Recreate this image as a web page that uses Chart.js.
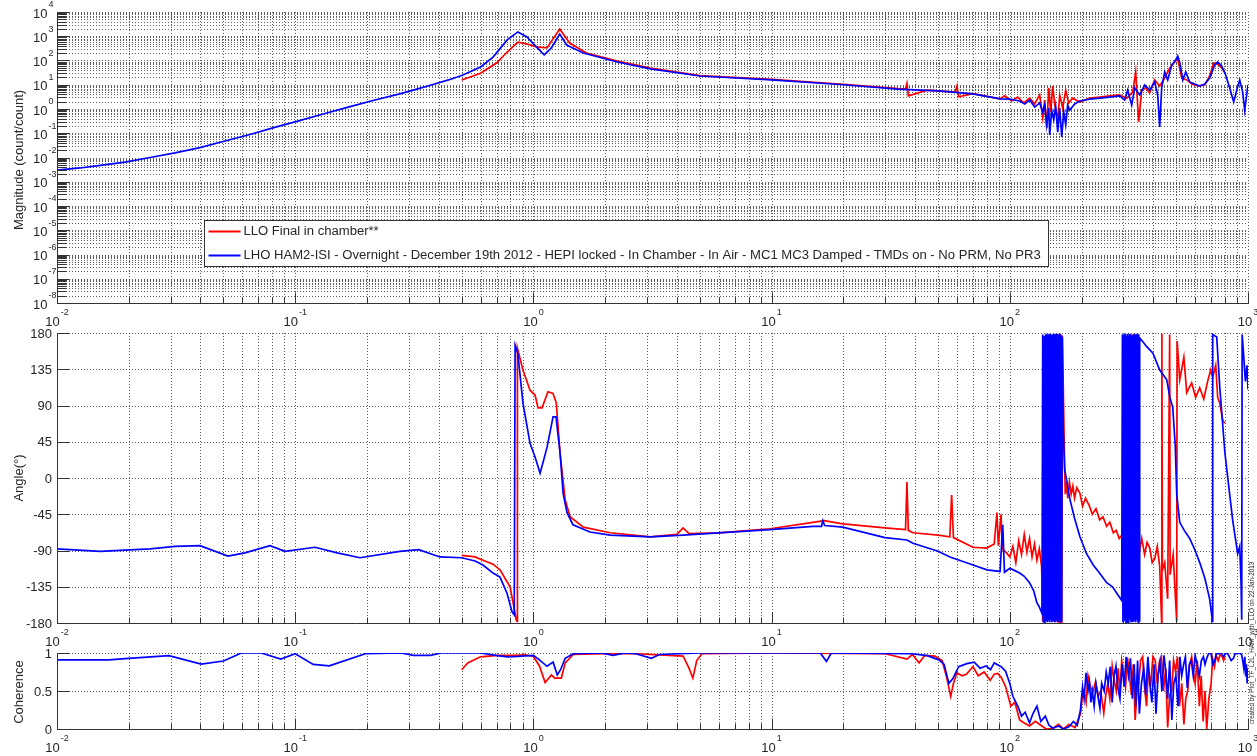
<!DOCTYPE html>
<html>
<head>
<meta charset="utf-8">
<script src="https://cdn.jsdelivr.net/npm/chart.js@4/dist/chart.umd.min.js"></script>
<style>
  body { margin: 0; background: #fff; }
  #wrap { position: relative; width: 1257px; height: 756px; }
  #wrap canvas { position: absolute; left: 0; top: 0; }
</style>
</head>
<body>
<div id="wrap">
  <canvas id="mag" width="1257" height="756"></canvas>
  <canvas id="phase" width="1257" height="756"></canvas>
  <canvas id="coh" width="1257" height="756"></canvas>
</div>
<script>
// ---- series -------------------------------------------------------------
var labelLLO = 'LLO Final in chamber**';
var labelLHO = 'LHO HAM2-ISI - Overnight - December 19th 2012 - HEPI locked - In Chamber - In Air - MC1 MC3 Damped - TMDs on - No PRM, No PR3';

// magnitude (count/count)
var magFreqLHO = [0.01, 0.0125, 0.0152, 0.0193, 0.0246, 0.0313, 0.0398, 0.0507, 0.0646, 0.0806,
  0.1007, 0.131, 0.17, 0.216, 0.275, 0.324, 0.379, 0.44, 0.5, 0.6,
  0.677, 0.776, 0.861, 0.94, 1.01, 1.11, 1.19, 1.29, 1.38, 1.62,
  2.25, 3.1, 5, 10, 20, 34, 50, 70, 91,
  100, 110, 115.5, 121.2, 127.2, 133.5, 137.5, 140.1, 142.9, 145.7,
  147.1, 149.9, 152.9, 155.8, 158.9, 162, 165.2, 168.4, 171.7, 175,
  178.4, 187.3, 196.6, 216.5, 238.5, 262.7, 289.3, 303.6, 312.6, 324.9,
  334.4, 351, 368.4, 386.6, 405.7, 417.7, 425.9, 434.2, 447, 460.2,
  478.4, 497.3, 507, 516.9, 532.1, 547.8, 569.4, 597.4, 627, 658.1,
  690.6, 724.8, 746.1, 775.5, 806.1, 837.8, 871, 896.6, 923, 950,
  968.6, 1000];
var magLHO = [0.003, 0.0037, 0.0047, 0.0065, 0.01, 0.0155, 0.0257, 0.048, 0.089, 0.166,
  0.3, 0.62, 1.26, 2.34, 4.2, 6.6, 10.2, 15.8, 24, 54,
  138, 708, 1510, 933, 437, 170, 331, 1230, 437, 204,
  87, 45, 23, 15.8, 10, 6.6, 5.6, 4.2, 2.6,
  2.57, 2.14, 1.62, 2.34, 1.2, 1.78, 0.76, 1.45, 0.22, 1.1,
  0.085, 0.91, 0.35, 1.32, 0.11, 1.1, 0.071, 0.76, 0.22, 1.45,
  0.91, 1.62, 2.14, 2.57, 2.8, 3.1, 3.5, 2.34, 6.0, 1.45,
  7.4, 3.8, 9.8, 6.0, 12.9, 3.8, 0.18, 7.4, 34, 15.8,
  65, 105, 155, 87, 15.8, 34, 12.9, 10.7, 8.9, 10.7,
  19, 65, 87, 59, 25, 7.4, 1.95, 6.0, 15.8, 5.0,
  0.9, 10];
var magFreqLLO = [0.5, 0.6, 0.7, 0.776, 0.861, 0.94, 1.03, 1.14, 1.29, 1.42,
  1.67, 2.25, 3.1, 5, 10, 20, 34, 36.5, 37, 37.5,
  45, 59, 60, 61, 70, 91, 95.2, 101.8, 107.9, 114.4,
  121.2, 127.2, 133.5, 137.5, 140.1, 142.9, 145.7, 148.5, 151.4, 154.3,
  158.9, 162, 166.8, 171.7, 176.7, 183.6, 196.6, 216.5, 238.5, 262.7,
  289.3, 309.5, 328.1, 337.7, 347.6, 357.9, 371.9, 386.6, 405.7, 425.9,
  447, 469.2, 492.5, 507, 527, 553.1, 580.5, 615, 658.1, 690.6,
  717.8, 746.1, 775.5, 798.3];
var magLLO = [15.8, 30, 79, 224, 575, 479, 363, 331, 1995, 525,
  204, 95, 49, 24, 16.6, 10.5, 6.9, 6.8, 11.5, 3.5,
  6.0, 5.0, 8.9, 3.2, 4.3, 2.6, 3.5, 2.14, 3.1, 1.78,
  2.8, 1.62, 3.8, 0.43, 2.34, 0.166, 7.4, 0.76, 8.9, 1.62,
  0.35, 3.8, 1.1, 6.0, 1.78, 2.8, 1.95, 2.8, 3.1, 3.5,
  3.8, 2.8, 5.0, 34, 0.29, 6.0, 7.4, 4.6, 15.8, 8.9,
  19, 49, 87, 115, 19, 15.8, 10.7, 8.9, 9.8, 23,
  79, 71, 49, 34];

// phase (degrees)
var phaseFreqLHO = [0.01, 0.0152, 0.0246, 0.0313, 0.0398, 0.0522, 0.0615, 0.0784, 0.0906, 0.121,
  0.15, 0.187, 0.275, 0.33, 0.405, 0.5, 0.569, 0.614, 0.677, 0.724,
  0.775, 0.813, 0.831, 0.838, 0.86, 0.904, 0.968, 1.016, 1.067, 1.141,
  1.209, 1.244, 1.294, 1.333, 1.384, 1.466, 1.728, 2.1, 3.1, 4.25,
  9.85, 14.9, 16.2, 16.4, 16.7, 19.9, 29.9, 37, 39.2, 50,
  56.1, 70.1, 80.2, 91, 93.4, 95, 100, 105, 110, 115,
  121, 126, 130, 133, 136.5,
  137.5, 138.2, 139, 139.7, 140.5, 141.2, 142, 142.7, 143.5, 144.2,
  145, 145.7, 146.5, 147.2, 148, 148.7, 149.5, 150.2, 151, 151.7,
  152.5, 153.2, 154, 154.7, 155.5, 156.2, 157, 157.7, 158.5, 159.2,
  160, 160.7, 161.5, 162.2, 163, 163.7, 164.5, 165.2, 166,
  167.5, 170, 174, 178, 187, 197, 210, 224, 238, 255, 270, 284, 295,
  297, 298.5, 300, 301.5, 303, 304.5, 306, 307.5, 309, 310.5,
  312, 313.5, 315, 316.5, 318, 319.5, 321, 322.5, 324, 325.5,
  327, 328.5, 330, 331.5, 333, 334.5, 336, 337.5, 339, 340.5,
  342, 343.5, 345, 346.5, 348, 349.5, 351,
  376, 399, 426, 456, 470, 483, 495, 502, 517, 540,
  569, 600, 627, 660, 690, 710, 711, 739, 761, 800,
  862, 905, 923, 935, 941, 945, 960, 975, 990, 1000];
var phaseLHO = [-88, -91, -88, -85, -84, -97, -93, -84, -91, -86,
  -93, -99, -91, -89, -98, -99, -103, -108, -118, -123,
  -143, -166, -170, 165, 155, 93, 43, 26, 6, 38,
  76, 76, 31, -19, -43, -58, -67, -71, -73, -71,
  -64, -60, -60, -53, -59, -61, -74, -77, -81, -91,
  -98, -108, -114, -116, -58, -117, -112, -115, -118, -122,
  -130, -140, -155, -160, -168,
  178, -178, 176, -179, 177, -176, 179, -178, 175, -179,
  178, -177, 179, -179, 177, -176, 178, -179, 176, -178,
  179, -177, 178, -179, 176, -178, 179, -176, 177, -179,
  178, -177, 179, -178, 176, -179, 177, -178, 175,
  60, 10, -5, -24, -50, -73, -94, -108, -118, -130, -135, -145, -152,
  178, -179, 177, -178, 179, -177, 178, -179, 176, -178,
  179, -179, 177, -178, 179, -176, 178, -179, 177, -178,
  176, -179, 178, -177, 179, -178, 177, -179, 178, -176,
  179, -178, 177, -179, 178, -177, 174,
  163, 155, 134, 122, 100, 88, 40, -20, -55, -65,
  -75, -90, -105, -125, -150, -178, 178, 175, 113, 31,
  -52, -94, -85, -130, -176, 178, 150, 120, 140, 110];
var phaseFreqLLO = [0.5, 0.569, 0.614, 0.677, 0.724, 0.798, 0.838, 0.846, 0.854, 0.857,
  0.862, 0.904, 0.968, 1.016, 1.046, 1.087, 1.151, 1.209, 1.248, 1.294,
  1.359, 1.426, 1.62, 2.1, 3.1, 4, 4.25, 4.5, 6, 9.85,
  14.9, 16.6, 19.9, 29.9, 36.5, 37, 37.5, 39.2, 50, 56,
  57, 58, 70, 80, 86, 88.3, 89.5, 91.9, 93, 97,
  100, 103, 106, 109, 112, 115, 118, 121, 124, 127,
  130, 133, 136, 137.5, 139, 142, 145, 148, 150, 152,
  153, 153.7, 154.4, 155.1, 155.8, 156.5, 157.2, 157.9, 158.6, 159.3,
  160, 160.7, 161.4, 162.1, 162.8, 163.5, 164.2, 164.9, 165.6, 166.3,
  169.9, 171, 173.3, 175, 178, 181, 184, 187, 191, 197,
  202, 208, 216, 222, 230, 238.5, 246, 255, 263, 272,
  280, 288, 297, 305,
  315, 325, 327, 330, 340, 351, 358, 368, 377, 387,
  396, 406, 416, 426, 434, 435, 437, 447, 460, 469,
  471, 485, 502, 504, 517, 538, 553, 580, 603, 627,
  652, 677, 697, 711, 732, 746, 761, 783, 798];
var phaseLLO = [-96, -98, -102, -107, -114, -135, -168, -176, -178, 161,
  158, 134, 109, 103, 87, 87, 107, 105, 93, 31,
  -27, -48, -61, -68, -73, -70, -62, -69, -68, -63,
  -55, -53, -57, -62, -64, -5, -65, -68, -71, -73,
  -21, -74, -86, -87, -82, -43, -84, -45, -88, -93,
  -98, -85, -105, -78, -95, -70, -92, -75, -98, -82,
  -102, -88, -110, -178, -100, -95, -110, -90, -115, -100,
  -178, 178, -179, 176, -178, 179, -177, 178, -179, 175,
  -178, 177, -179, 178, -176, 179, -178, 177, -179, 176,
  14, -20, -5, -25, -5, -20, -10, -25, -12, -19,
  -35, -25, -35, -45, -38, -52, -48, -60, -55, -68,
  -65, -75, -70, -80,
  -75, -178, 178, -90, -85, -89, -75, -95, -80, -87,
  -105, -100, -85, -110, -179, 179, -115, -105, -150, 178,
  -120, -95, -178, 170, 122, 150, 106, 118, 100, 112,
  98, 120, 134, 125, 140, 100, 93, 72, 68];

// coherence
var cohFreqLHO = [0.01, 0.0165, 0.02, 0.0295, 0.0403, 0.05, 0.0594, 0.072, 0.087, 0.1,
  0.119, 0.139, 0.197, 0.279, 0.313, 0.37, 0.41, 0.6, 0.706, 0.78,
  0.857, 1, 1.06, 1.14, 1.21, 1.26, 1.3, 1.36, 1.47, 1.93,
  2.16, 2.42, 2.69, 3.13, 3.38, 5, 10, 16, 17, 17.8,
  38.6, 45, 50.4, 53, 55.5, 57.6, 61, 66, 70.9, 75,
  79.5, 83, 86, 92, 96, 100, 103, 108, 112, 116,
  121, 125, 130, 135, 141, 146, 152, 160, 168, 177,
  185, 192,
  198, 202, 205, 209, 213, 216, 219, 222, 226, 230,
  234, 239, 243, 249, 254, 259, 264, 269, 274, 279,
  284, 290, 296, 302, 308, 315, 321, 327, 333, 338,
  344, 350, 357, 365, 372, 380, 387, 395, 403, 411,
  419, 427, 435, 444, 452, 460, 469, 479, 488, 498,
  508, 518, 527, 537, 546, 556, 567, 578, 589, 600,
  612, 625, 637, 650, 660, 671, 685, 700, 712, 725,
  737, 750, 775, 790, 803, 820, 835, 850, 869, 885,
  900, 920, 940, 950, 960, 970, 978, 985, 992, 1000];
var cohLHO = [0.91, 0.91, 0.93, 0.965, 0.855, 0.895, 1, 1, 0.92, 0.99,
  0.85, 0.83, 0.99, 1, 0.97, 0.97, 1, 1, 0.965, 0.95,
  0.955, 0.97, 0.91, 0.825, 0.88, 0.71, 0.78, 0.93, 0.99, 1,
  0.97, 1, 0.99, 0.93, 0.98, 1, 1, 1, 0.89, 1,
  0.99, 0.965, 0.91, 0.85, 0.6, 0.66, 0.82, 0.86, 0.88, 0.8,
  0.83, 0.78, 0.87, 0.82, 0.76, 0.6, 0.43, 0.3, 0.17, 0.22,
  0.08, 0.2, 0.3, 0.1, 0.17, 0.05, 0.01, 0.04, 0, 0.03,
  0.1, 0.05,
  0.25, 0.55, 0.4, 0.74, 0.5, 0.62, 0.35, 0.5, 0.3, 0.6,
  0.45, 0.27, 0.6, 0.5, 0.75, 0.6, 0.82, 0.35, 0.7, 0.83,
  0.55, 0.4, 0.85, 0.56, 0.95, 0.7, 0.93, 0.4, 0.85, 0.3,
  0.9, 0.2, 0.6, 0.8, 0.45, 0.95, 0.6, 0.35, 0.85, 0.2,
  0.7, 0.88, 0.5, 0.97, 0.75, 0.4, 0.9, 0.12, 0.6, 0.7,
  0.3, 0.95, 0.7, 0.85, 0.95, 0.54, 0.85, 0.9, 0.7, 0.97,
  0.85, 0.7, 0.9, 0.95, 0.85, 0.93, 1, 0.99, 0.85, 0.9,
  1, 0.99, 1, 0.95, 0.99, 1, 0.95, 0.9, 0.93, 1,
  0.99, 1, 0.98, 0.9, 0.8, 0.95, 0.69, 0.85, 0.6, 0.8];
var cohFreqLLO = [0.5, 0.53, 0.6, 0.706, 0.82, 0.925, 1, 1.06, 1.12, 1.19,
  1.23, 1.31, 1.36, 1.47, 2, 2.69, 4.25, 4.5, 4.67, 4.85,
  5.1, 10, 30, 37, 39, 41.6, 44, 48.5, 52, 54.4,
  56.5, 58, 60, 63, 65.7, 70, 73.7, 78, 82.7, 86,
  89, 92, 96, 101, 105, 110, 115, 121, 128, 135,
  142, 152, 160, 168, 177, 188,
  198, 202, 205, 209, 213, 218, 224, 229, 235, 241,
  248, 253, 258, 263, 269, 274, 280, 285, 290, 295,
  300, 306, 312, 318, 324, 330, 336, 342, 348, 354,
  361, 368, 375, 382, 390, 399, 408, 416, 425, 433,
  442, 451, 460, 469, 478, 487, 496, 506, 516, 527,
  538, 548, 558, 569, 580, 590, 600, 612, 625, 636,
  648, 660, 671, 685, 700, 711, 723, 736, 750, 765,
  780, 790, 800];
var cohLLO = [0.78, 0.87, 0.95, 0.97, 0.97, 0.975, 0.955, 0.83, 0.61, 0.71,
  0.67, 0.67, 0.87, 0.98, 0.99, 0.99, 0.96, 0.8, 0.67, 0.9,
  0.99, 1, 0.99, 0.92, 0.98, 0.87, 0.97, 0.96, 0.9, 0.67,
  0.43, 0.6, 0.74, 0.7, 0.72, 0.82, 0.7, 0.75, 0.64, 0.72,
  0.73, 0.68, 0.56, 0.3, 0.35, 0.12, 0.08, 0.04, 0.1, 0.05,
  0, 0.01, 0.06, 0, 0.06, 0.02,
  0.2, 0.45, 0.5, 0.35, 0.7, 0.55, 0.5, 0.62, 0.43, 0.5,
  0.21, 0.45, 0.6, 0.4, 0.83, 0.65, 0.5, 0.8, 0.47, 0.9,
  0.75, 0.55, 0.94, 0.7, 0.45, 0.85, 0.12, 0.5, 0.6, 0.9,
  0.95, 0.55, 0.3, 0.8, 0.56, 0.95, 0.9, 0.6, 0.89, 0.95,
  0.5, 0.8, 0.02, 0.45, 0.5, 0.9, 0.76, 0.95, 0.3, 0.6,
  0.06, 0.4, 0.5, 0.85, 0.95, 0.75, 0.6, 0.9, 0.3, 0.7,
  0.1, 0.5, 0, 0.4, 0.6, 0.92, 0.82, 0.97, 0.9, 0.98,
  0.95, 0.9, 0.95];

// axis ticks
var freqDecades = [-2, -1, 0, 1, 2, 3];
var magDecades = [-8, -7, -6, -5, -4, -3, -2, -1, 0, 1, 2, 3, 4];
var phaseTicks = [-180, -135, -90, -45, 0, 45, 90, 135, 180];
var cohTicks = [0, 0.5, 1];
var cohTickLabels = ['0', '0.5', '1'];
var creditText = 'created by Plot_TF_L2L_HAM_with_LLO on 22-Jan-2013';

// ---- drawing helpers ----------------------------------------------------
var FONT = '"Liberation Sans", Arial, Helvetica, sans-serif';
var INK = '#262626';
var RED = '#ff0000', BLUE = '#0000ff';
var W = 1257, H = 756, LEFT = 57, RIGHT = 1248;

function pairs(xs, ys) {
  return xs.map(function (x, i) { return { x: x, y: ys[i] }; });
}

// 1..9 x 10^n between two decades, used for the log grid
function logSteps(lo, hi) {
  var out = [];
  for (var e = lo; e < hi; e++) {
    for (var m = 1; m < 10; m++) out.push(m * Math.pow(10, e));
  }
  out.push(Math.pow(10, hi));
  return out;
}

function tenTo(ctx, e, x, y, align) {
  var sup = String(e);
  ctx.font = '13px ' + FONT;
  var w1 = ctx.measureText('10').width;
  ctx.font = '9px ' + FONT;
  var w2 = ctx.measureText(sup).width;
  var x0 = align === 'center' ? x - (w1 + w2 + 1) / 2 : x;
  ctx.textAlign = 'left';
  ctx.textBaseline = 'middle';
  ctx.fillStyle = INK;
  ctx.font = '13px ' + FONT;
  ctx.fillText('10', x0, y);
  ctx.font = '9px ' + FONT;
  ctx.fillText(sup, x0 + w1 + 1, y - 9);
}

function vText(ctx, text, x, y, size) {
  ctx.save();
  ctx.translate(x, y);
  ctx.rotate(-Math.PI / 2);
  ctx.font = size + 'px ' + FONT;
  ctx.fillStyle = INK;
  ctx.textAlign = 'center';
  ctx.textBaseline = 'middle';
  ctx.fillText(text, 0, 0);
  ctx.restore();
}

var xGridValues = logSteps(-2, 3);

// MATLAB-like axes: dotted grid, inward ticks, left/bottom spines, labels
var axesPlugin = {
  id: 'axesDeco',
  beforeDatasetsDraw: function (chart, args, o) {
    var ctx = chart.ctx, a = chart.chartArea, sx = chart.scales.x, sy = chart.scales.y;
    ctx.save();
    ctx.strokeStyle = 'rgba(40,40,40,0.75)';
    ctx.lineWidth = 1;
    ctx.setLineDash([1, 2]);
    ctx.beginPath();
    xGridValues.forEach(function (v) {
      var px = Math.round(sx.getPixelForValue(v)) + 0.5;
      ctx.moveTo(px, a.top); ctx.lineTo(px, a.bottom);
    });
    o.yGrid.forEach(function (v) {
      var py = Math.round(sy.getPixelForValue(v)) + 0.5;
      ctx.moveTo(a.left, py); ctx.lineTo(a.right, py);
    });
    ctx.stroke();
    ctx.restore();
  },
  afterDatasetsDraw: function (chart, args, o) {
    var ctx = chart.ctx, a = chart.chartArea, sx = chart.scales.x, sy = chart.scales.y;
    var L = Math.round(a.left) + 0.5, B = Math.round(a.bottom) + 0.5;
    ctx.save();
    ctx.strokeStyle = '#333';
    ctx.lineWidth = 1;
    ctx.beginPath();
    // spines
    ctx.moveTo(L, Math.round(a.top)); ctx.lineTo(L, B); ctx.lineTo(Math.round(a.right) + 1, B);
    // x ticks (inward)
    xGridValues.forEach(function (v) {
      var px = Math.round(sx.getPixelForValue(v)) + 0.5;
      var major = Math.abs(Math.log10(v) - Math.round(Math.log10(v))) < 1e-6;
      ctx.moveTo(px, B); ctx.lineTo(px, B - (major ? 11 : 6));
    });
    // y ticks (inward)
    o.yTicks.forEach(function (v) {
      var py = Math.round(sy.getPixelForValue(v)) + 0.5;
      ctx.moveTo(L, py); ctx.lineTo(L + 12, py);
    });
    (o.yMinor || []).forEach(function (v) {
      var py = Math.round(sy.getPixelForValue(v)) + 0.5;
      ctx.moveTo(L, py); ctx.lineTo(L + 9, py);
    });
    ctx.stroke();

    // x tick labels
    freqDecades.forEach(function (e) {
      tenTo(ctx, e, sx.getPixelForValue(Math.pow(10, e)), a.bottom + 19, 'center');
    });
    // y tick labels
    if (o.logLabels) {
      magDecades.forEach(function (e) {
        tenTo(ctx, e, 33, sy.getPixelForValue(Math.pow(10, e)) + 2, 'left');
      });
    } else {
      ctx.font = '13px ' + FONT;
      ctx.fillStyle = INK;
      ctx.textAlign = 'right';
      ctx.textBaseline = 'middle';
      o.yTicks.forEach(function (v, i) {
        ctx.fillText(o.yLabels[i], 52, sy.getPixelForValue(v) + 1);
      });
    }
    vText(ctx, o.title, 19, o.titleY, 13);
    if (o.legend) drawLegend(chart);
    if (o.credit) {
      ctx.font = '10px ' + FONT;
      var s = 10 * 163 / ctx.measureText(creditText).width;
      vText(ctx, creditText, 1252, 643, s.toFixed(2));
    }
    ctx.restore();
  }
};

function drawLegend(chart) {
  var ctx = chart.ctx;
  var bx = 204.5, by = 220.5, bw = 844, bh = 46;
  ctx.save();
  ctx.setLineDash([]);
  ctx.fillStyle = '#fff';
  ctx.fillRect(bx, by, bw, bh);
  ctx.strokeStyle = '#333';
  ctx.lineWidth = 1;
  ctx.strokeRect(bx, by, bw, bh);
  // font sized so the long entry spans the box
  ctx.font = '12px ' + FONT;
  var size = 12 * 798 / ctx.measureText(labelLHO).width;
  ctx.font = size.toFixed(2) + 'px ' + FONT;
  ctx.textAlign = 'left';
  ctx.textBaseline = 'middle';
  chart.data.datasets.forEach(function (ds, i) {
    var y = by + 11 + i * 24;
    ctx.strokeStyle = ds.borderColor;
    ctx.lineWidth = 2;
    ctx.beginPath();
    ctx.moveTo(bx + 4, y); ctx.lineTo(bx + 36, y);
    ctx.stroke();
    ctx.fillStyle = INK;
    ctx.fillText(ds.label, bx + 39, y);
  });
  ctx.restore();
}

function makeChart(id, datasets, yScale, top, bottom, deco) {
  var hidden = {
    ticks: { display: false },
    grid: { display: false },
    border: { display: false }
  };
  return new Chart(document.getElementById(id), {
    type: 'line',
    data: { datasets: datasets },
    options: {
      responsive: false,
      animation: false,
      events: [],
      layout: { padding: { left: LEFT, right: W - RIGHT, top: top, bottom: H - bottom } },
      elements: { point: { radius: 0 }, line: { borderWidth: 1.7, tension: 0 } },
      plugins: { legend: { display: false }, tooltip: { enabled: false }, axesDeco: deco },
      scales: {
        x: Object.assign({ type: 'logarithmic', min: 0.01, max: 1000,
          afterFit: function (s) { s.height = 0; } }, hidden),
        y: Object.assign({ afterFit: function (s) { s.width = 0; } }, hidden, yScale)
      }
    },
    plugins: [axesPlugin]
  });
}

function series(label, xs, ys, color, order) {
  return { label: label, data: pairs(xs, ys), borderColor: color, backgroundColor: color,
           fill: false, order: order };
}

// magnitude
makeChart('mag', [
  series(labelLLO, magFreqLLO, magLLO, RED, 1),
  series(labelLHO, magFreqLHO, magLHO, BLUE, 0)
], { type: 'logarithmic', min: 1e-8, max: 1e4 }, 12, 303, {
  yGrid: logSteps(-8, 4),
  yTicks: magDecades.map(function (e) { return Math.pow(10, e); }),
  yMinor: logSteps(-8, 4),
  logLabels: true,
  title: 'Magnitude (count/count)', titleY: 160,
  legend: true
});

// phase
makeChart('phase', [
  series(labelLLO, phaseFreqLLO, phaseLLO, RED, 1),
  series(labelLHO, phaseFreqLHO, phaseLHO, BLUE, 0)
], { type: 'linear', min: -180, max: 180 }, 333, 623, {
  yGrid: phaseTicks,
  yTicks: phaseTicks,
  yLabels: phaseTicks.map(String),
  title: 'Angle(\u00b0)', titleY: 478
});

// coherence
makeChart('coh', [
  series(labelLLO, cohFreqLLO, cohLLO, RED, 1),
  series(labelLHO, cohFreqLHO, cohLHO, BLUE, 0)
], { type: 'linear', min: 0, max: 1 }, 653, 729, {
  yGrid: cohTicks,
  yTicks: cohTicks,
  yLabels: cohTickLabels,
  title: 'Coherence', titleY: 692,
  credit: true
});
</script>
</body>
</html>
